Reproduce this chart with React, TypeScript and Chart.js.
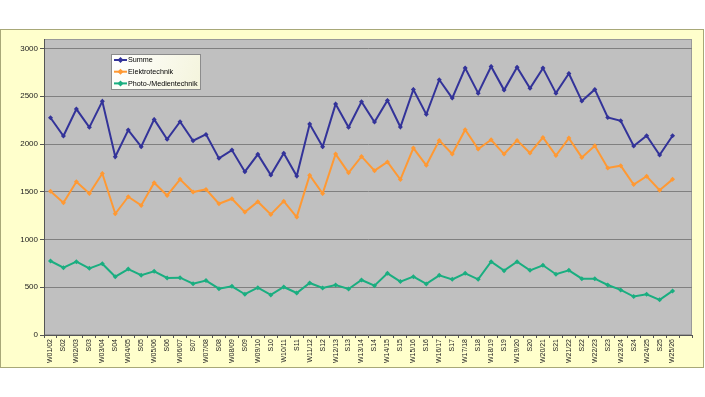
import React, { useEffect, useRef } from "react";
import { Chart, registerables } from "chart.js";

Chart.register(...registerables);

const categories = [
  "W01/02", "S02", "W02/03", "S03", "W03/04", "S04", "W04/05", "S05", "W05/06", "S06",
  "W06/07", "S07", "W07/08", "S08", "W08/09", "S09", "W09/10", "S10", "W10/11", "S11",
  "W11/12", "S12", "W12/13", "S13", "W13/14", "S14", "W14/15", "S15", "W15/16", "S16",
  "W16/17", "S17", "W17/18", "S18", "W18/19", "S19", "W19/20", "S20", "W20/21", "S21",
  "W21/22", "S22", "W22/23", "S23", "W23/24", "S24", "W24/25", "S25", "W25/26", "",
];

const summe = [
  2275, 2084, 2366, 2175, 2447, 1867, 2146, 1972, 2258, 2049,
  2234, 2035, 2101, 1850, 1937, 1710, 1892, 1676, 1903, 1665,
  2209, 1972, 2418, 2175, 2442, 2230, 2457, 2178, 2572, 2311,
  2673, 2481, 2795, 2533, 2812, 2565, 2805, 2583, 2795, 2533,
  2739, 2450, 2572, 2279, 2244, 1980, 2087, 1885, 2087, null,
];

const elektrotechnik = [
  1506, 1385, 1605, 1482, 1692, 1270, 1448, 1357, 1595, 1462,
  1630, 1497, 1525, 1375, 1427, 1287, 1396, 1263, 1402, 1235,
  1673, 1482, 1895, 1699, 1870, 1721, 1812, 1628, 1958, 1777,
  2038, 1895, 2150, 1948, 2045, 1895, 2038, 1906, 2069, 1880,
  2062, 1860, 1982, 1749, 1773, 1576, 1663, 1517, 1630, null,
];

const photoMedien = [
  775, 705, 768, 698, 747, 611, 691, 626, 667, 597,
  600, 538, 570, 485, 510, 427, 496, 420, 503, 440,
  545, 493, 524, 482, 576, 517, 646, 559, 611, 535,
  625, 583, 646, 583, 768, 674, 768, 677, 730, 636,
  677, 590, 590, 524, 472, 403, 427, 368, 462, null,
];

const seriesNames = ["Summe", "Elektrotechnik", "Photo-/Medientechnik"];
const seriesColors = ["#333399", "#FF9933", "#1AAE80"];
const yTickValues = [0, 500, 1000, 1500, 2000, 2500, 3000];

const FONT = "'Liberation Sans', Arial, sans-serif";

const framePlugin = {
  id: "frame",
  beforeDraw(chart: any) {
    const { ctx, chartArea } = chart;
    ctx.save();
    ctx.fillStyle = "#ffffff";
    ctx.fillRect(0, 0, chart.width, chart.height);
    ctx.fillStyle = "#FFFFCC";
    ctx.fillRect(0.5, 29.5, 703, 338);
    ctx.strokeStyle = "#A8A878";
    ctx.lineWidth = 1;
    ctx.strokeRect(0.5, 29.5, 703, 338);
    ctx.fillStyle = "#C0C0C0";
    ctx.fillRect(chartArea.left, chartArea.top, chartArea.right - chartArea.left, chartArea.bottom - chartArea.top);
    ctx.strokeStyle = "#9A9A9A";
    ctx.strokeRect(chartArea.left + 0.5, chartArea.top + 0.5, chartArea.right - chartArea.left - 1, chartArea.bottom - chartArea.top - 1);
    ctx.restore();
  },
  afterDraw(chart: any) {
    const { ctx } = chart;
    const x0 = 111, y0 = 54, w = 89, h = 35;
    ctx.save();
    const g = ctx.createLinearGradient(x0, y0, x0 + w, y0 + h);
    g.addColorStop(0, "#FFFFFF");
    g.addColorStop(1, "#F4F4DC");
    ctx.fillStyle = g;
    ctx.fillRect(x0 + 0.5, y0 + 0.5, w, h);
    ctx.strokeStyle = "#8C8C8C";
    ctx.lineWidth = 1;
    ctx.strokeRect(x0 + 0.5, y0 + 0.5, w, h);
    chart.data.datasets.forEach((ds: any, i: number) => {
      const y = y0 + 6 + i * 11.7;
      ctx.strokeStyle = ds.borderColor;
      ctx.lineWidth = 2;
      ctx.beginPath();
      ctx.moveTo(x0 + 3, y);
      ctx.lineTo(x0 + 16, y);
      ctx.stroke();
      ctx.fillStyle = ds.borderColor;
      ctx.beginPath();
      const cx = x0 + 9.5;
      ctx.moveTo(cx, y - 3);
      ctx.lineTo(cx + 3, y);
      ctx.lineTo(cx, y + 3);
      ctx.lineTo(cx - 3, y);
      ctx.closePath();
      ctx.fill();
      ctx.fillStyle = "#000000";
      ctx.font = `7.2px ${FONT}`;
      ctx.textBaseline = "middle";
      ctx.textAlign = "left";
      ctx.fillText(ds.label, x0 + 17, y + 0.5);
    });
    ctx.restore();
  },
};

export default function App() {
  const ref = useRef<HTMLCanvasElement | null>(null);

  useEffect(() => {
    if (!ref.current) return;
    const datasets = [summe, elektrotechnik, photoMedien].map((data, i) => ({
      label: seriesNames[i],
      data,
      borderColor: seriesColors[i],
      backgroundColor: seriesColors[i],
      borderWidth: 2,
      pointStyle: "rectRot",
      pointRadius: 2.5,
      pointBorderWidth: 0,
      pointBackgroundColor: seriesColors[i],
      tension: 0,
      spanGaps: false,
    }));
    const chart = new Chart(ref.current, {
      type: "line",
      data: { labels: categories, datasets },
      plugins: [framePlugin],
      options: {
        animation: false,
        responsive: false,
        devicePixelRatio: 1,
        layout: { padding: { left: 0, top: 39, right: 13, bottom: 0 } },
        plugins: { legend: { display: false }, tooltip: { enabled: false } },
        scales: {
          x: {
            type: "category",
            offset: true,
            afterFit: (s: any) => { s.height = 62; },
            grid: {
              offset: true,
              drawOnChartArea: false,
              drawTicks: true,
              tickLength: 3,
              color: "#555555",
            },
            border: { display: true, color: "#555555", width: 1 },
            ticks: {
              autoSkip: false,
              maxRotation: 90,
              minRotation: 90,
              padding: 1,
              color: "#222222",
              font: { family: FONT, size: 7 },
            },
          },
          y: {
            min: 0,
            max: 3100,
            afterFit: (s: any) => { s.width = 44; },
            afterBuildTicks: (s: any) => {
              s.ticks = yTickValues.map((v) => ({ value: v }));
            },
            grid: {
              color: (c: any) => (c.tick && c.tick.value === 0 ? "rgba(0,0,0,0)" : "#808080"),
              drawTicks: true,
              tickLength: 4,
              tickColor: "#555555",
              lineWidth: 1,
            },
            border: { display: true, color: "#555555", width: 1 },
            ticks: {
              padding: 2,
              color: "#222222",
              font: { family: FONT, size: 8 },
              callback: (v: any) => String(v),
            },
          },
        },
      } as any,
    });
    return () => chart.destroy();
  }, []);

  return (
    <div style={{ position: "fixed", left: 0, top: 0, width: 705, height: 397, background: "#ffffff" }}>
      <canvas ref={ref} width={705} height={397} style={{ display: "block", width: 705, height: 397 }} />
    </div>
  );
}
